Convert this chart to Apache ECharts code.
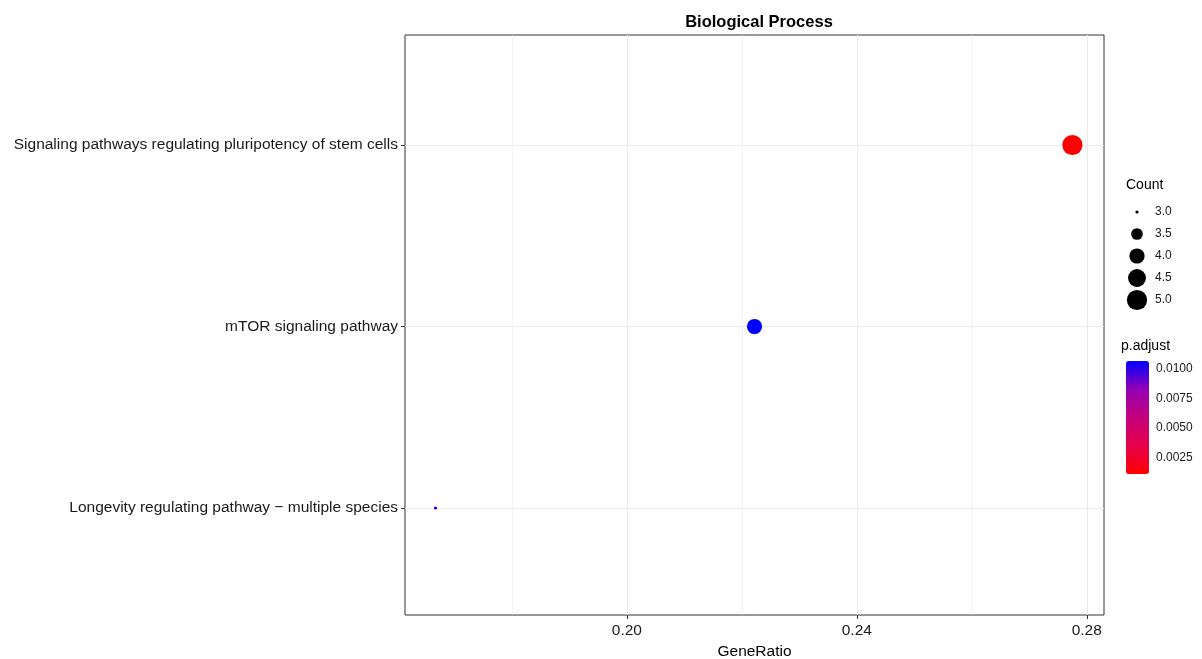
<!DOCTYPE html>
<html>
<head>
    <meta charset="utf-8">
    <title>Biological Process</title>
    <script src="https://cdn.jsdelivr.net/npm/echarts@6/dist/echarts.min.js"></script>
    <style>
        html, body { margin: 0; padding: 0; background: #fff; }
        #main { width: 1202px; height: 659px; }
    </style>
</head>
<body>
<div id="main"></div>
<script type="text/javascript">
    // 通路名称（自下而上）
    var pathways = [
        'Longevity regulating pathway \u2212 multiple species',
        'mTOR signaling pathway',
        'Signaling pathways regulating pluripotency of stem cells'
    ];
    var geneRatio = [0.1667, 0.2222, 0.2775];
    var counts = [3, 4, 5];
    var pAdjust = [0.0104, 0.01068, 0.00108];

    var xMajorTicks = [0.20, 0.24, 0.28];
    var xMinorTicks = [0.18, 0.22, 0.26];
    var sizeLegend = [3.0, 3.5, 4.0, 4.5, 5.0];
    var pTicks = [0.0025, 0.0050, 0.0075, 0.0100];

    var pMin = 0.00108, pMax = 0.01068;
    var cMin = 3, cMax = 5;

    // ggplot scale_size: 面积映射
    function dotSize(c) {
        var t = (c - cMin) / (cMax - cMin);
        return 3.4 * (1 + 5 * Math.sqrt(t)) - 0.2;
    }

    var points = [];
    for (var i = 0; i < pathways.length; i++) {
        points.push([geneRatio[i], i + 1, pAdjust[i], counts[i]]);
    }
    var legendPoints = [];
    for (var j = 0; j < sizeLegend.length; j++) {
        legendPoints.push([0.5, j, sizeLegend[j]]);
    }

    var font = 'Liberation Sans, Arial, sans-serif';
    var myChart = echarts.init(document.getElementById('main'));
    var option = {
        animation: false,
        title: {
            text: 'Biological Process',
            left: 754, top: 9, textAlign: 'center',
            textStyle: { fontFamily: font, fontWeight: 'bold', fontSize: 16.5, color: '#000' }
        },
        graphic: [
            { type: 'text', left: 1126, top: 178, style: { text: 'Count', font: '14px ' + font, fill: '#000' } },
            { type: 'text', left: 1121, top: 339, style: { text: 'p.adjust', font: '14px ' + font, fill: '#000' } }
        ],
        grid: [
            { left: 405, right: 98, top: 35, bottom: 44, show: true, borderColor: '#333', borderWidth: 1,
              backgroundColor: '#fff', outerBoundsMode: 'none', containLabel: false },
            { left: 1128, width: 18, top: 201, height: 110, outerBoundsMode: 'none', containLabel: false },
            { left: 1126, width: 23, top: 361, height: 113, outerBoundsMode: 'none', containLabel: false }
        ],
        xAxis: [
            {
                gridIndex: 0, type: 'value', min: 0.1614, max: 0.2830,
                name: 'GeneRatio', nameLocation: 'middle', nameGap: 25,
                nameTextStyle: { fontFamily: font, fontSize: 15.5, color: '#000' },
                axisLine: { show: false },
                axisTick: { show: true, length: 4, customValues: xMajorTicks, lineStyle: { color: '#333' } },
                axisLabel: { customValues: xMajorTicks, fontFamily: font, fontSize: 15.5, color: '#1a1a1a', margin: 8,
                    formatter: function (v) { return v.toFixed(2); } },
                splitLine: { show: true, lineStyle: { color: '#ebebeb', width: 1.1 } }
            },
            {
                gridIndex: 0, type: 'value', min: 0.1614, max: 0.2830,
                axisLine: { show: false }, axisLabel: { show: false },
                axisTick: { show: false, customValues: xMinorTicks },
                splitLine: { show: true, lineStyle: { color: '#ebebeb', width: 0.6 } }
            },
            { gridIndex: 1, type: 'value', min: 0, max: 1, show: false },
            { gridIndex: 2, type: 'value', min: 0, max: 1, show: false }
        ],
        yAxis: [
            {
                gridIndex: 0, type: 'value', min: 0.4105, max: 3.606,
                axisLine: { show: false },
                axisTick: { show: true, length: 4, customValues: [1, 2, 3], lineStyle: { color: '#333' } },
                axisLabel: { customValues: [1, 2, 3], fontFamily: font, fontSize: 15.5, color: '#1a1a1a', margin: 7,
                    formatter: function (v) { return pathways[Math.round(v) - 1]; } },
                splitLine: { show: true, lineStyle: { color: '#ebebeb', width: 1.1 } }
            },
            {
                gridIndex: 1, type: 'category', inverse: true, position: 'right',
                data: sizeLegend.map(function (v) { return v.toFixed(1); }),
                axisLine: { show: false }, axisTick: { show: false }, splitLine: { show: false },
                axisLabel: { fontFamily: font, fontSize: 12, color: '#1a1a1a', margin: 9 }
            },
            {
                gridIndex: 2, type: 'value', min: pMin, max: pMax, position: 'right', z: 10,
                axisLine: { show: false }, splitLine: { show: false },
                axisTick: { show: true, inside: true, length: 5, customValues: pTicks, lineStyle: { color: 'rgba(255,255,255,0.6)' } },
                axisLabel: { customValues: pTicks, fontFamily: font, fontSize: 12, color: '#1a1a1a', margin: 7,
                    formatter: function (v) { return v.toFixed(4); } }
            }
        ],
        visualMap: {
            type: 'continuous', seriesIndex: 0, dimension: 2,
            min: pMin, max: pMax, calculable: false, realtime: false,
            left: 1126, top: 361, itemWidth: 23, itemHeight: 113, padding: 0,
            hoverLink: false,
            inRange: { color: ['#ff0000', '#e5004a', '#c4007c', '#9400b4', '#0000ff'] }
        },
        series: [
            {
                type: 'scatter', xAxisIndex: 0, yAxisIndex: 0,
                data: points,
                symbolSize: function (d) { return dotSize(d[3]); },
                itemStyle: { opacity: 1 }
            },
            {
                type: 'scatter', xAxisIndex: 2, yAxisIndex: 1,
                data: legendPoints,
                symbolSize: function (d) { return dotSize(d[2]); },
                itemStyle: { color: '#000', opacity: 1 }
            }
        ]
    };
    myChart.setOption(option);
</script>
</body>
</html>
